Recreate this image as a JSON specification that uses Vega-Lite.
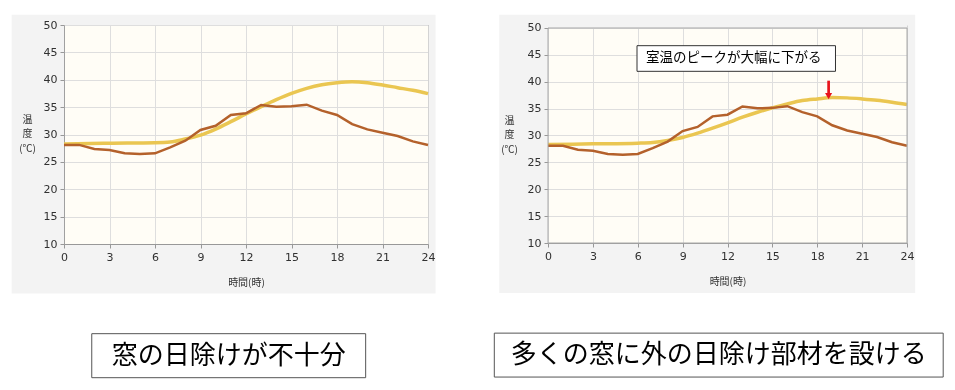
{
  "$schema": "https://vega.github.io/schema/vega-lite/v6.json",
  "background": "white",
  "padding": {"left": 11, "top": 14, "right": 4, "bottom": 4},
  "spacing": 56,
  "config": {
    "font": "Noto Sans CJK JP",
    "view": {"stroke": "#a8a8a8", "fill": "#fffdf6"},
    "axis": {
      "labelFont": "DejaVu Sans",
      "labelFontSize": 11,
      "labelColor": "#333333",
      "domainColor": "#a0a0a0",
      "tickColor": "#a0a0a0",
      "tickSize": 4,
      "labelPadding": 3,
      "grid": true,
      "gridColor": "#dedede",
      "titleFont": "Noto Sans CJK JP",
      "titleFontSize": 10,
      "titleFontWeight": "normal",
      "titleColor": "#333333",
      "labelFlush": false
    }
  },
  "datasets": {
    "outdoor": [
      {"hour": 0, "temp": 28.08}, {"hour": 1, "temp": 28.1}, {"hour": 2, "temp": 27.35},
      {"hour": 3, "temp": 27.17}, {"hour": 4, "temp": 26.56}, {"hour": 5, "temp": 26.44},
      {"hour": 6, "temp": 26.56}, {"hour": 7, "temp": 27.65}, {"hour": 8, "temp": 28.87},
      {"hour": 9, "temp": 30.82}, {"hour": 10, "temp": 31.6}, {"hour": 11, "temp": 33.56},
      {"hour": 12, "temp": 33.87}, {"hour": 13, "temp": 35.4}, {"hour": 14, "temp": 35.05},
      {"hour": 15, "temp": 35.14}, {"hour": 16, "temp": 35.45}, {"hour": 17, "temp": 34.35},
      {"hour": 18, "temp": 33.56}, {"hour": 19, "temp": 31.9}, {"hour": 20, "temp": 30.94},
      {"hour": 21, "temp": 30.33}, {"hour": 22, "temp": 29.73}, {"hour": 23, "temp": 28.75},
      {"hour": 24, "temp": 28.08}
    ],
    "room1": [
      {"hour": 0, "temp": 28.26}, {"hour": 3, "temp": 28.4}, {"hour": 6, "temp": 28.5},
      {"hour": 7, "temp": 28.63}, {"hour": 8, "temp": 29.18}, {"hour": 9, "temp": 29.9},
      {"hour": 10, "temp": 31.0}, {"hour": 11, "temp": 32.34}, {"hour": 12, "temp": 33.74},
      {"hour": 13, "temp": 35.08}, {"hour": 14, "temp": 36.36}, {"hour": 15, "temp": 37.5},
      {"hour": 16, "temp": 38.43}, {"hour": 17, "temp": 39.1}, {"hour": 18, "temp": 39.47},
      {"hour": 19, "temp": 39.65}, {"hour": 20, "temp": 39.47}, {"hour": 21, "temp": 39.04},
      {"hour": 22, "temp": 38.55}, {"hour": 23, "temp": 38.07}, {"hour": 24, "temp": 37.46}
    ],
    "room2": [
      {"hour": 0, "temp": 28.33}, {"hour": 3, "temp": 28.45}, {"hour": 6, "temp": 28.58},
      {"hour": 7, "temp": 28.7}, {"hour": 8, "temp": 29.07}, {"hour": 9, "temp": 29.63},
      {"hour": 10, "temp": 30.43}, {"hour": 11, "temp": 31.36}, {"hour": 12, "temp": 32.35},
      {"hour": 13, "temp": 33.4}, {"hour": 14, "temp": 34.33}, {"hour": 15, "temp": 35.14},
      {"hour": 16, "temp": 35.88}, {"hour": 17, "temp": 36.5}, {"hour": 18, "temp": 36.81},
      {"hour": 19, "temp": 37.06}, {"hour": 20, "temp": 37.0}, {"hour": 21, "temp": 36.81},
      {"hour": 22, "temp": 36.56}, {"hour": 23, "temp": 36.19}, {"hour": 24, "temp": 35.76}
    ]
  },
  "hconcat": [
    {
      "width": 364,
      "height": 219,
      "layer": [
        {
          "data": {"name": "room1"},
          "mark": {"type": "line", "stroke": "#eac651", "strokeWidth": 3.5, "interpolate": "monotone"},
          "encoding": {
            "x": {"field": "hour", "type": "quantitative",
              "scale": {"domain": [0, 24], "nice": false, "zero": false},
              "axis": {"values": [0, 3, 6, 9, 12, 15, 18, 21, 24], "title": "時間(時)", "titleY": 38.5, "titleBaseline": "middle"}},
            "y": {"field": "temp", "type": "quantitative",
              "scale": {"domain": [10, 50], "nice": false, "zero": false},
              "axis": {"tickCount": 8, "labelOverlap": false, "labelSeparation": 0, "title": ["温", "度", "(℃)"], "titleAngle": 0,
                "titleAlign": "center", "titleBaseline": "middle", "titleX": -37, "titleY": 94, "titleLineHeight": 14.5}}
          }
        },
        {
          "data": {"name": "outdoor"},
          "mark": {"type": "line", "stroke": "#b4612b", "strokeWidth": 2.5},
          "encoding": {
            "x": {"field": "hour", "type": "quantitative"},
            "y": {"field": "temp", "type": "quantitative"}
          }
        },
        {
          "data": {"values": [{}]},
          "mark": {"type": "rect", "fill": "#f3f3f3", "blend": "multiply"},
          "encoding": {
            "x": {"datum": -3.45, "type": "quantitative"},
            "x2": {"datum": 0},
            "y": {"datum": 0.98, "type": "quantitative"},
            "y2": {"datum": 51.88}
          }
        },
        {
          "data": {"values": [{}]},
          "mark": {"type": "rect", "fill": "#f3f3f3", "blend": "multiply"},
          "encoding": {
            "x": {"datum": 24, "type": "quantitative"},
            "x2": {"datum": 24.5},
            "y": {"datum": 0.98, "type": "quantitative"},
            "y2": {"datum": 51.88}
          }
        },
        {
          "data": {"values": [{}]},
          "mark": {"type": "rect", "fill": "#f3f3f3", "blend": "multiply"},
          "encoding": {
            "x": {"datum": 0, "type": "quantitative"},
            "x2": {"datum": 24},
            "y": {"datum": 50, "type": "quantitative"},
            "y2": {"datum": 51.88}
          }
        },
        {
          "data": {"values": [{}]},
          "mark": {"type": "rect", "fill": "#f3f3f3", "blend": "multiply"},
          "encoding": {
            "x": {"datum": 0, "type": "quantitative"},
            "x2": {"datum": 24},
            "y": {"datum": 0.98, "type": "quantitative"},
            "y2": {"datum": 10}
          }
        },
        {
          "data": {"values": [{}]},
          "mark": {"type": "rect", "fill": "white", "stroke": "#555555", "strokeWidth": 1},
          "encoding": {
            "x": {"datum": 1.83, "type": "quantitative"},
            "x2": {"datum": 19.89},
            "y": {"datum": -6.38, "type": "quantitative"},
            "y2": {"datum": -14.42}
          }
        },
        {
          "data": {"values": [{"label": "窓の日除けが不十分"}]},
          "mark": {"type": "text", "font": "Noto Sans CJK JP", "fontSize": 26, "color": "black", "align": "center", "baseline": "middle"},
          "encoding": {
            "x": {"datum": 10.86, "type": "quantitative"},
            "y": {"datum": -10.4, "type": "quantitative"},
            "text": {"field": "label"}
          }
        }
      ]
    },
    {
      "width": 359,
      "height": 218,
      "view": {"stroke": null, "fill": "#fffdf6"},
      "layer": [
        {
          "data": {"name": "room2"},
          "mark": {"type": "line", "stroke": "#eac651", "strokeWidth": 3.5, "interpolate": "monotone"},
          "encoding": {
            "x": {"field": "hour", "type": "quantitative",
              "scale": {"domain": [0, 24], "nice": false, "zero": false},
              "axis": {"values": [0, 3, 6, 9, 12, 15, 18, 21, 24], "title": "時間(時)", "titleY": 38.5, "titleBaseline": "middle"}},
            "y": {"field": "temp", "type": "quantitative",
              "scale": {"domain": [10, 50.558], "nice": false, "zero": false},
              "axis": {"tickCount": 8, "labelOverlap": false, "labelSeparation": 0, "domain": false, "title": ["温", "度", "(℃)"], "titleAngle": 0,
                "titleAlign": "center", "titleBaseline": "middle", "titleX": -39, "titleY": 95, "titleLineHeight": 14.5}}
          }
        },
        {
          "data": {"name": "outdoor"},
          "mark": {"type": "line", "stroke": "#b4612b", "strokeWidth": 2.5},
          "encoding": {
            "x": {"field": "hour", "type": "quantitative"},
            "y": {"field": "temp", "type": "quantitative"}
          }
        },
        {
          "data": {"values": [{}]},
          "mark": {"type": "rect", "fill": "#f3f3f3", "blend": "multiply"},
          "encoding": {
            "x": {"datum": -3.26, "type": "quantitative"},
            "x2": {"datum": 0},
            "y": {"datum": 0.715, "type": "quantitative"},
            "y2": {"datum": 52.47}
          }
        },
        {
          "data": {"values": [{}]},
          "mark": {"type": "rect", "fill": "#f3f3f3", "blend": "multiply"},
          "encoding": {
            "x": {"datum": 24, "type": "quantitative"},
            "x2": {"datum": 24.55},
            "y": {"datum": 0.715, "type": "quantitative"},
            "y2": {"datum": 52.47}
          }
        },
        {
          "data": {"values": [{}]},
          "mark": {"type": "rect", "fill": "#f3f3f3"},
          "encoding": {
            "x": {"datum": 0, "type": "quantitative"},
            "x2": {"datum": 24},
            "y": {"datum": 50, "type": "quantitative"},
            "y2": {"datum": 52.47}
          }
        },
        {
          "data": {"values": [{}]},
          "mark": {"type": "rect", "fill": "#f3f3f3", "blend": "multiply"},
          "encoding": {
            "x": {"datum": 0, "type": "quantitative"},
            "x2": {"datum": 24},
            "y": {"datum": 0.715, "type": "quantitative"},
            "y2": {"datum": 10}
          }
        },
        {
          "data": {"values": [{}]},
          "mark": {"type": "rect", "fill": null, "fillOpacity": 0, "stroke": "#a8a8a8", "strokeWidth": 1},
          "encoding": {
            "x": {"datum": 0, "type": "quantitative"},
            "x2": {"datum": 24},
            "y": {"datum": 10, "type": "quantitative"},
            "y2": {"datum": 50}
          }
        },
        {
          "data": {"values": [{}]},
          "mark": {"type": "rect", "fill": "white", "stroke": "#333333", "strokeWidth": 1},
          "encoding": {
            "x": {"datum": 5.95, "type": "quantitative"},
            "x2": {"datum": 19.22},
            "y": {"datum": 41.94, "type": "quantitative"},
            "y2": {"datum": 46.71}
          }
        },
        {
          "data": {"values": [{"label": "室温のピークが大幅に下がる"}]},
          "mark": {"type": "text", "font": "Noto Sans CJK JP", "fontSize": 13.5, "color": "black", "align": "left", "baseline": "middle"},
          "encoding": {
            "x": {"datum": 6.55, "type": "quantitative"},
            "y": {"datum": 44.33, "type": "quantitative"},
            "text": {"field": "label"}
          }
        },
        {
          "data": {"values": [{}]},
          "mark": {"type": "rule", "color": "#e8141c", "strokeWidth": 2.7},
          "encoding": {
            "x": {"datum": 18.76, "type": "quantitative"},
            "y": {"datum": 40.2, "type": "quantitative"},
            "y2": {"datum": 37.8}
          }
        },
        {
          "data": {"values": [{}]},
          "mark": {"type": "point", "shape": "triangle-down", "filled": true, "color": "#e8141c", "size": 50, "opacity": 1},
          "encoding": {
            "x": {"datum": 18.76, "type": "quantitative"},
            "y": {"datum": 37.33, "type": "quantitative"}
          }
        },
        {
          "data": {"values": [{}]},
          "mark": {"type": "rect", "fill": "white", "stroke": "#555555", "strokeWidth": 1},
          "encoding": {
            "x": {"datum": -3.59, "type": "quantitative"},
            "x2": {"datum": 26.42},
            "y": {"datum": -6.77, "type": "quantitative"},
            "y2": {"datum": -14.94}
          }
        },
        {
          "data": {"values": [{"label": "多くの窓に外の日除け部材を設ける"}]},
          "mark": {"type": "text", "font": "Noto Sans CJK JP", "fontSize": 26, "color": "black", "align": "center", "baseline": "middle"},
          "encoding": {
            "x": {"datum": 11.42, "type": "quantitative"},
            "y": {"datum": -10.85, "type": "quantitative"},
            "text": {"field": "label"}
          }
        }
      ]
    }
  ]
}
